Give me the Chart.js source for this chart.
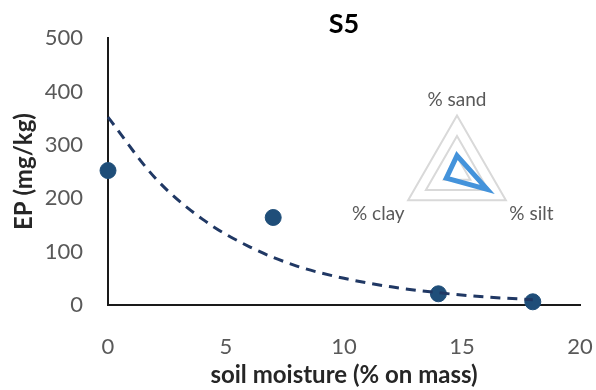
<!DOCTYPE html>
<html>
<head>
<meta charset="utf-8">
<script src="https://cdn.jsdelivr.net/npm/chart.js@4.4.1/dist/chart.umd.min.js"></script>
<style>
  html, body { margin: 0; padding: 0; background: #ffffff; }
  #wrap { position: relative; width: 596px; height: 390px; }
  #main { position: absolute; left: 0; top: 0; }
  #radar { position: absolute; left: 348px; top: 69px; }
</style>
</head>
<body>
<div id="wrap">
  <canvas id="main" width="596" height="390"></canvas>
  <canvas id="radar" width="210" height="180"></canvas>
</div>
<script>
// ---- data ----
const chartTitle = 'S5';
const xTitle = 'soil moisture (% on mass)';
const yTitle = 'EP (mg/kg)';
const moisture = [0, 7, 14, 18];
const epValues = [252, 164, 21, 6];
const trendMoisture = [0, 2, 4, 6, 8, 10, 12, 14, 16, 18];
const trendEP = [352, 238, 161, 109, 73, 50, 34, 23, 15, 10];
const xTickValues = [0, 5, 10, 15, 20];
const yTickValues = [0, 100, 200, 300, 400, 500];
const textureLabels = ['% sand', '% silt', '% clay'];
const textureValues = [16, 34, 12];
const textureGrid = [0, 15, 35, 55];

const FONT = 'Lato, "Open Sans", sans-serif';

const pointsData = moisture.map((x, i) => ({ x: x, y: epValues[i] }));
const trendData = trendMoisture.map((x, i) => ({ x: x, y: trendEP[i] }));

new Chart(document.getElementById('main'), {
  type: 'scatter',
  data: {
    datasets: [
      {
        type: 'line',
        label: 'trend',
        data: trendData,
        borderColor: '#203864',
        borderWidth: 3,
        borderDash: [10, 7],
        pointRadius: 0,
        fill: false,
        cubicInterpolationMode: 'monotone',
        order: 0,
        clip: false
      },
      {
        label: 'EP',
        data: pointsData,
        backgroundColor: '#1f4e79',
        borderColor: '#1f4e79',
        pointRadius: 8,
        pointHoverRadius: 8,
        order: 1,
        clip: false
      }
    ]
  },
  options: {
    responsive: false,
    animation: false,
    layout: { padding: { left: 0, right: 16, top: 0, bottom: 0 } },
    plugins: {
      legend: { display: false },
      tooltip: { enabled: false },
      title: {
        display: true,
        text: chartTitle,
        fullSize: false,
        color: '#000000',
        font: { family: FONT, size: 27, weight: 'bold', lineHeight: 1.0 },
        padding: { top: 11, bottom: 0 }
      }
    },
    scales: {
      x: {
        type: 'linear',
        min: 0,
        max: 20,
        afterBuildTicks: (s) => { s.ticks = xTickValues.map(v => ({ value: v })); },
        afterFit: (s) => { s.height = 85; s.paddingLeft = 0; s.paddingRight = 0; },
        grid: { display: false, drawTicks: false },
        border: { display: true, color: '#1a1a1a', width: 2 },
        ticks: { color: '#595959', font: { family: FONT, size: 22 }, padding: 29 },
        title: {
          display: true,
          text: xTitle,
          color: '#262626',
          font: { family: FONT, size: 24, weight: 'bold' },
          padding: { top: 0, bottom: 0 }
        }
      },
      y: {
        type: 'linear',
        min: 0,
        max: 500,
        afterBuildTicks: (s) => { s.ticks = yTickValues.map(v => ({ value: v })); },
        afterFit: (s) => { s.width = 108; },
        grid: { display: false, drawTicks: false },
        border: { display: true, color: '#1a1a1a', width: 2 },
        ticks: { color: '#595959', font: { family: FONT, size: 22 }, padding: 25 },
        title: {
          display: true,
          text: yTitle,
          color: '#262626',
          font: { family: FONT, size: 24, weight: 'bold' },
          padding: { top: 10, bottom: 0 }
        }
      }
    }
  }
});

new Chart(document.getElementById('radar'), {
  type: 'radar',
  data: {
    labels: textureLabels,
    datasets: [{
      data: textureValues,
      borderColor: '#4493db',
      borderWidth: 5,
      backgroundColor: 'rgba(0,0,0,0)',
      pointRadius: 0,
      fill: false
    }]
  },
  options: {
    responsive: false,
    animation: false,
    layout: { padding: 0 },
    plugins: { legend: { display: false }, tooltip: { enabled: false } },
    scales: {
      r: {
        min: 0,
        max: 55,
        afterBuildTicks: (s) => { s.ticks = textureGrid.map(v => ({ value: v })); },
        angleLines: { display: false },
        grid: { color: '#d9d9d9', lineWidth: 2 },
        ticks: { display: false },
        pointLabels: { color: '#595959', font: { family: FONT, size: 19 }, padding: 4 }
      }
    }
  }
});
</script>
</body>
</html>
